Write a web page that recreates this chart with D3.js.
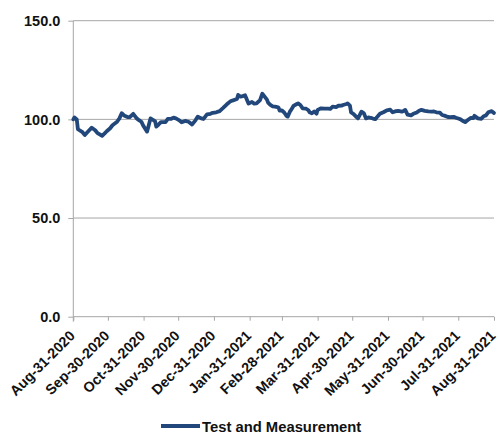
<!DOCTYPE html>
<html>
<head>
<meta charset="utf-8">
<script src="https://cdn.jsdelivr.net/npm/d3@7"></script>
<style>
  html, body { margin: 0; padding: 0; background: #fff; }
  svg { display: block; font-family: Arial, "Liberation Sans", sans-serif; }
</style>
</head>
<body>
<svg id="chart" width="500" height="433"></svg>
<script>
// Index level of the Test and Measurement group, Aug 2020 - Aug 2021
const dates = [
  "2020-08-31","2020-09-01","2020-09-03","2020-09-04","2020-09-08","2020-09-10","2020-09-13","2020-09-16",
  "2020-09-19","2020-09-21","2020-09-25","2020-09-27","2020-09-29","2020-10-02","2020-10-04","2020-10-08",
  "2020-10-10","2020-10-12","2020-10-14","2020-10-17","2020-10-19","2020-10-22","2020-10-25","2020-10-27",
  "2020-10-29","2020-10-31","2020-11-03","2020-11-04","2020-11-06","2020-11-08","2020-11-10","2020-11-11",
  "2020-11-13","2020-11-15","2020-11-19","2020-11-21","2020-11-24","2020-11-26","2020-11-28","2020-12-01",
  "2020-12-03","2020-12-06","2020-12-09","2020-12-12","2020-12-15","2020-12-17","2020-12-20","2020-12-22",
  "2020-12-25","2020-12-28","2020-12-30","2021-01-02","2021-01-05","2021-01-08","2021-01-11","2021-01-14",
  "2021-01-16","2021-01-20","2021-01-21","2021-01-23","2021-01-25","2021-01-27","2021-01-30","2021-01-31",
  "2021-02-02","2021-02-04","2021-02-06","2021-02-09","2021-02-11","2021-02-13","2021-02-15","2021-02-16",
  "2021-02-18","2021-02-20","2021-02-22","2021-02-24","2021-02-25","2021-02-26","2021-02-28","2021-03-02",
  "2021-03-04","2021-03-05","2021-03-07","2021-03-08","2021-03-10","2021-03-13","2021-03-14","2021-03-16",
  "2021-03-18","2021-03-21","2021-03-23","2021-03-24","2021-03-26","2021-03-28","2021-03-30","2021-03-31",
  "2021-04-03","2021-04-06","2021-04-09","2021-04-11","2021-04-13","2021-04-16","2021-04-18","2021-04-21",
  "2021-04-22","2021-04-25","2021-04-26","2021-04-28","2021-04-29","2021-05-01","2021-05-04","2021-05-05",
  "2021-05-08","2021-05-10","2021-05-12","2021-05-14","2021-05-16","2021-05-18","2021-05-20","2021-05-22",
  "2021-05-24","2021-05-27","2021-05-30","2021-06-02","2021-06-04","2021-06-07","2021-06-09","2021-06-12",
  "2021-06-14","2021-06-15","2021-06-17","2021-06-20","2021-06-22","2021-06-25","2021-06-27","2021-06-29",
  "2021-07-02","2021-07-05","2021-07-08","2021-07-10","2021-07-12","2021-07-15","2021-07-17","2021-07-19",
  "2021-07-22","2021-07-24","2021-07-27","2021-07-29","2021-07-31","2021-08-02","2021-08-04","2021-08-06",
  "2021-08-08","2021-08-11","2021-08-13","2021-08-14","2021-08-17","2021-08-20","2021-08-22","2021-08-24",
  "2021-08-26","2021-08-29","2021-08-31"
];

const indexValues = [
  100.0,101.0,100.0,95.0,93.5,92.1,94.0,95.8,
  94.5,93.0,91.7,92.8,94.0,95.5,97.0,98.8,
  100.5,103.1,102.0,101.2,101.1,102.8,100.5,99.6,
  98.8,96.5,93.8,96.0,100.5,99.8,99.0,96.3,
  97.4,98.6,98.6,100.2,100.3,100.9,100.5,99.5,
  98.5,99.2,98.8,97.4,99.5,101.4,100.5,100.2,
  102.5,102.8,103.3,103.6,104.2,105.8,107.5,109.0,
  109.5,110.3,112.4,111.5,111.8,112.2,108.0,108.3,
  108.8,108.0,108.1,109.8,113.0,111.5,110.0,108.5,
  107.3,106.6,106.4,106.2,106.0,104.5,104.5,103.5,
  101.8,101.4,104.0,104.8,106.8,107.8,108.1,107.3,
  105.6,105.4,104.6,103.6,103.1,104.0,102.9,104.8,
  105.6,105.4,105.4,105.3,106.4,106.2,106.9,107.0,
  107.3,107.8,108.1,107.0,103.5,102.8,101.0,100.5,
  103.9,103.2,100.5,101.0,100.8,100.4,100.1,101.5,
  102.8,103.6,104.6,104.9,103.6,104.2,104.3,103.9,
  104.4,104.8,102.4,102.0,102.8,103.5,104.4,104.8,
  104.3,104.0,103.9,104.0,103.6,103.4,102.2,101.9,
  101.2,101.1,101.3,100.8,100.4,100.0,99.2,98.6,
  99.5,100.8,100.7,101.8,100.5,100.3,101.6,102.0,
  103.6,104.2,103.2
];

const yTicks = [0, 50, 100, 150];
const xTickDates = [
  "2020-08-31","2020-09-30","2020-10-31","2020-11-30","2020-12-31","2021-01-31",
  "2021-02-28","2021-03-31","2021-04-30","2021-05-31","2021-06-30","2021-07-31","2021-08-31"
];
const seriesName = "Test and Measurement";

const parse = d3.timeParse("%Y-%m-%d");
const fmt = d3.timeFormat("%b-%d-%Y");
const series = dates.map((d, i) => ({ date: parse(d), value: indexValues[i] }));

const svg = d3.select("#chart");
const plotLeft = 73.3, plotRight = 494, plotTop = 20.7, plotBottom = 316.7;

const x = d3.scaleTime()
  .domain([parse("2020-08-31"), parse("2021-08-31")])
  .range([plotLeft, plotRight]);
const y = d3.scaleLinear().domain([0, 150]).range([plotBottom, plotTop]);

const gridColor = "#A6A6A6";
const lineColor = "#22477A";

// horizontal gridlines
svg.append("g")
  .selectAll("line")
  .data(yTicks.filter(t => t > 0))
  .join("line")
  .attr("x1", plotLeft).attr("x2", plotRight)
  .attr("y1", d => y(d)).attr("y2", d => y(d))
  .attr("stroke", gridColor).attr("stroke-width", 1);

// y axis
const yAxis = svg.append("g")
  .attr("transform", `translate(${plotLeft},0)`)
  .call(d3.axisLeft(y).tickValues(yTicks).tickSize(5).tickPadding(8).tickFormat(d3.format(".1f")));
yAxis.select(".domain").attr("stroke", gridColor).attr("d", `M0,${plotTop}V${plotBottom + 5}`);
yAxis.selectAll(".tick line").attr("stroke", gridColor);
yAxis.selectAll(".tick text")
  .attr("font-size", "14.5px").attr("font-weight", "bold").attr("fill", "#111")
  .attr("font-family", "Arial, 'Liberation Sans', sans-serif");

// x axis with diagonal date labels
const xAxis = svg.append("g")
  .attr("transform", `translate(0,${plotBottom})`)
  .call(d3.axisBottom(x).tickValues(xTickDates.map(parse)).tickSize(4).tickFormat(fmt));
xAxis.select(".domain").attr("stroke", gridColor).attr("d", `M${plotLeft},0H${plotRight}`);
xAxis.selectAll(".tick line").attr("stroke", gridColor);
xAxis.selectAll(".tick text")
  .attr("font-size", "14.3px").attr("font-weight", "bold").attr("fill", "#111")
  .attr("font-family", "Arial, 'Liberation Sans', sans-serif")
  .attr("text-anchor", "end")
  .attr("dy", "0")
  .attr("y", 0)
  .attr("transform", "translate(2,20) rotate(-45)");

// index line
svg.append("path")
  .datum(series)
  .attr("fill", "none")
  .attr("stroke", lineColor)
  .attr("stroke-width", 3.8)
  .attr("stroke-linejoin", "round")
  .attr("stroke-linecap", "round")
  .attr("d", d3.line().x(d => x(d.date)).y(d => y(d.value)));

// legend
const legend = svg.append("g").attr("transform", "translate(161,426)");
legend.append("line")
  .attr("x1", 0).attr("x2", 39).attr("y1", 0).attr("y2", 0)
  .attr("stroke", lineColor).attr("stroke-width", 4);
legend.append("text")
  .attr("x", 41).attr("y", 5.5)
  .attr("font-size", "14.8px").attr("font-weight", "bold").attr("fill", "#111")
  .text(seriesName);
</script>
</body>
</html>
